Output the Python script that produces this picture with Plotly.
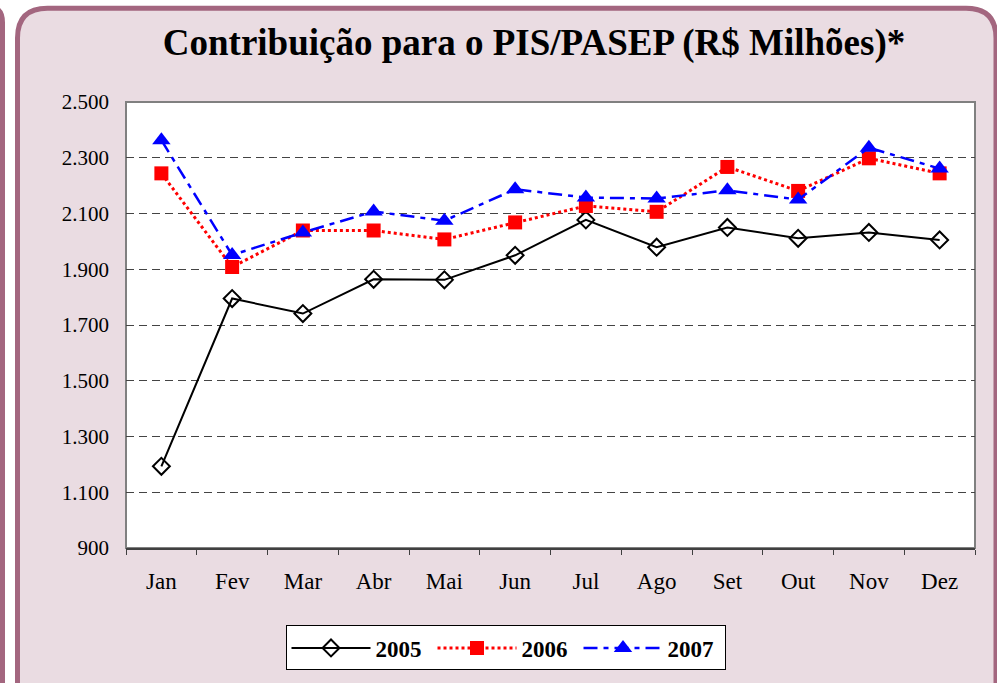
import plotly.graph_objects as go

months = ["Jan", "Fev", "Mar", "Abr", "Mai", "Jun", "Jul", "Ago", "Set", "Out", "Nov", "Dez"]
v2005 = [1193, 1795, 1741, 1864, 1862, 1950, 2077, 1979, 2050, 2011, 2032, 2005]
v2006 = [2244, 1908, 2039, 2039, 2007, 2068, 2127, 2106, 2267, 2181, 2298, 2244]
v2007 = [2363, 1951, 2032, 2107, 2074, 2187, 2157, 2154, 2183, 2150, 2336, 2261]
y_ticks = [900, 1100, 1300, 1500, 1700, 1900, 2100, 2300, 2500]
y_tick_text = ["900", "1.100", "1.300", "1.500", "1.700", "1.900", "2.100", "2.300", "2.500"]

W, H = 997, 683
L, R, T, B = 126, 975, 102, 551


def px(x):
    return (x - L) / (R - L)


def py(y):
    return (B - y) / (B - T)


SERIF = "Liberation Serif, Times New Roman, serif"
MAUVE = "#A3667F"
PINK = "#EADCE2"

fig = go.Figure()
fig.add_trace(go.Scatter(
    x=months, y=v2005, name="2005", mode="lines+markers",
    line=dict(color="black", width=2),
    marker=dict(symbol="diamond-open", size=13, color="black", line=dict(width=2)),
))
fig.add_trace(go.Scatter(
    x=months, y=v2006, name="2006", mode="lines+markers",
    line=dict(color="#FF0000", width=3, dash="dot"),
    marker=dict(symbol="square", size=14, color="#FF0000"),
))
fig.add_trace(go.Scatter(
    x=months, y=v2007, name="2007", mode="lines+markers",
    line=dict(color="#0000FF", width=2.5, dash="14px,6px,5px,6px"),
    marker=dict(symbol="triangle-up", size=16, color="#0000FF"),
))

r = 30
x0, y0, x1, y1 = 17.5, 7.5, 996, 700
frame = (f"M {px(x0)},{py(y1)} L {px(x0)},{py(y0 + r)} "
         f"Q {px(x0)},{py(y0)} {px(x0 + r)},{py(y0)} "
         f"L {px(x1 - r)},{py(y0)} Q {px(x1)},{py(y0)} {px(x1)},{py(y0 + r)} "
         f"L {px(x1)},{py(y1)} Z")
sliver = (f"M {px(-20)},{py(6)} L {px(-12)},{py(6)} "
          f"Q {px(2.5)},{py(6)} {px(2.5)},{py(22)} L {px(2.5)},{py(690)}")

shapes = [
    dict(type="path", xref="paper", yref="paper", path=frame,
         fillcolor=PINK, line=dict(color=MAUVE, width=5), layer="below"),
    dict(type="path", xref="paper", yref="paper", path=sliver,
         line=dict(color=MAUVE, width=5), layer="below"),
    dict(type="rect", xref="paper", yref="paper", x0=0, y0=0, x1=1, y1=1,
         fillcolor="white", line=dict(color="#808080", width=2), layer="below"),
]

fig.update_layout(
    width=W, height=H,
    margin=dict(l=L, r=W - R, t=T, b=H - B),
    paper_bgcolor="white",
    plot_bgcolor="rgba(0,0,0,0)",
    shapes=shapes,
    title=dict(text="<b>Contribuição para o PIS/PASEP (R$ Milhões)*</b>",
               xref="container", yref="container",
               x=534 / W, y=1 - 42 / H, xanchor="center", yanchor="middle",
               font=dict(family=SERIF, size=37, color="black")),
    font=dict(family=SERIF, color="black"),
    showlegend=True,
    legend=dict(orientation="h", x=px(505.5), xanchor="center",
                y=py(629), yanchor="top",
                bgcolor="white", bordercolor="black", borderwidth=1,
                font=dict(family=SERIF, size=23, color="black", weight="bold"),
                itemwidth=79, entrywidth=52, entrywidthmode="pixels"),
    xaxis=dict(type="category", showgrid=False, showline=True,
               linecolor="#404040", linewidth=2, ticks="outside",
               tickson="boundaries", ticklen=5, tickcolor="#404040",
               tickfont=dict(family=SERIF, size=23, color="black"),
               ticklabelstandoff=11, zeroline=False,
               range=[-0.5, 11.5]),
    yaxis=dict(range=[900, 2500], tickmode="array", tickvals=y_ticks,
               ticktext=y_tick_text, showgrid=True, gridcolor="#444444",
               griddash="8px,5px", gridwidth=1, showline=False, ticks="",
               zeroline=False,
               tickfont=dict(family=SERIF, size=21, color="black"),
               ticklabelstandoff=16),
)

fig.write_html("out.html", config={"displayModeBar": False},
               post_script="document.body.style.margin='0';document.body.style.overflow='hidden';")
